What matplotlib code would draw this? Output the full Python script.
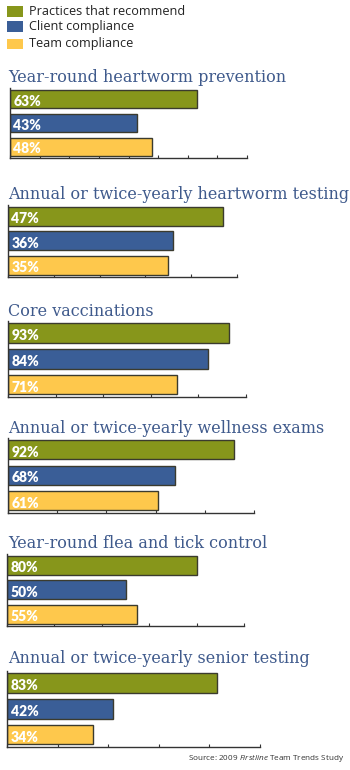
import matplotlib
matplotlib.use("Agg")
import matplotlib.pyplot as plt
from matplotlib.patches import Rectangle

plt.rcParams["mathtext.fontset"] = "custom"
plt.rcParams["mathtext.rm"] = "Open Sans"
plt.rcParams["mathtext.it"] = "Open Sans:italic"

# ---- data ----
series = ["Practices that recommend", "Client compliance", "Team compliance"]
titles = [
    "Year-round heartworm prevention",
    "Annual or twice-yearly heartworm testing",
    "Core vaccinations",
    "Annual or twice-yearly wellness exams",
    "Year-round flea and tick control",
    "Annual or twice-yearly senior testing",
]
recommend = [63, 47, 93, 92, 80, 83]
client = [43, 36, 84, 68, 50, 42]
team = [48, 35, 71, 61, 55, 34]
axis_max = [80, 50, 100, 100, 100, 100]
tick_step = [10, 10, 20, 20, 20, 20]
source = "Source: 2009 $\\it{Firstline}$ Team Trends Study"

colors = ["#87961b", "#3a5e97", "#fec84c"]
edge = "#3b3b2e"
title_color = "#3f5a8c"

W, H = 350, 770
fig = plt.figure(figsize=(W / 100, H / 100), dpi=100)

def fx(px):
    return px / W

def fy(py):
    return 1 - py / H

# legend
leg_y = [11.5, 26.5, 43.5]
for name, c, yc in zip(series, colors, leg_y):
    fig.patches.append(Rectangle((fx(7), fy(yc + 5)), fx(16) - fx(0), (10) / H,
                                 transform=fig.transFigure, facecolor=c, edgecolor="none"))
    fig.text(fx(29), fy(yc), name, fontsize=9.1, family="Open Sans",
             color="#222222", va="center", ha="left")

# panel geometry in pixels: (left, right, top, bottom, title baseline)
geom = [
    (10, 247, 88, 158, 82),
    (8, 237, 205, 277, 199),
    (8, 246, 321, 397, 316),
    (8, 254, 438, 513, 433),
    (7, 244, 554, 626, 548),
    (7, 260, 671, 747, 663),
]

for i, t in enumerate(titles):
    l, r, top, bot, tb = geom[i]
    ax = fig.add_axes([fx(l), fy(bot), fx(r) - fx(l), (bot - top) / H])
    vals = [recommend[i], client[i], team[i]]
    ax.barh([0, 1, 2], vals, height=0.76, color=colors, edgecolor=edge,
            linewidth=1.0, zorder=2)
    ax.set_xlim(0, axis_max[i])
    ax.set_ylim(2.48, -0.46)
    for j, v in enumerate(vals):
        ax.text(axis_max[i] * 0.014, j + 0.1, f"{v}%", color="white",
                fontsize=10, fontweight="heavy", family="Lato",
                va="center", ha="left", zorder=3)
    ax.set_xticks(range(0, axis_max[i] + 1, tick_step[i]))
    ax.set_xticklabels([])
    ax.set_yticks([])
    ax.tick_params(axis="x", direction="in", length=2.5, width=0.8, color="#333333")
    for s in ["top", "right"]:
        ax.spines[s].set_visible(False)
    ax.spines["bottom"].set_color("#333333")
    ax.spines["left"].set_color("#333333")
    ax.spines["bottom"].set_linewidth(1.0)
    ax.spines["left"].set_linewidth(1.0)
    ax.set_facecolor("none")
    fig.text(fx(8), fy(tb), t, fontsize=11.5, family="DejaVu Serif",
             color=title_color, va="baseline", ha="left")

fig.text(fx(344), fy(759), source, fontsize=5.9, family="Open Sans",
         color="#333333", va="center", ha="right")

fig.savefig("out.png", dpi=100)
